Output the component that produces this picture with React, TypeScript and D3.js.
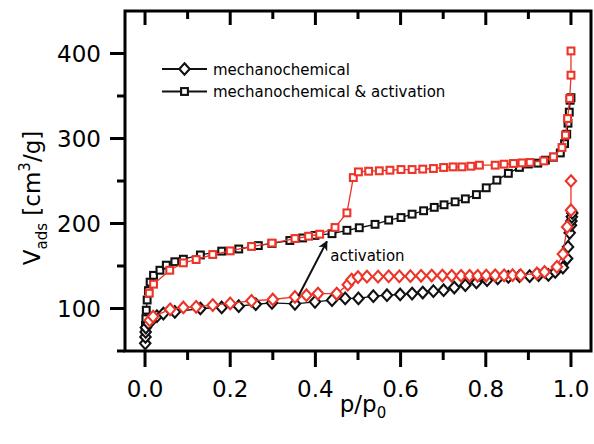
import React from "react";
import * as d3 from "d3";

// ---- data (p/p0, V_ads) ----
const blackSquares: [number, number][] = [
  [0.0005, 72], [0.001, 80], [0.002, 88], [0.003, 98], [0.005, 110], [0.008, 121], [0.012, 131],
  [0.02, 139], [0.035, 145], [0.05, 151], [0.07, 155], [0.09, 158], [0.13, 163], [0.18, 167.5],
  [0.22, 170], [0.266, 174], [0.298, 176.5], [0.34, 180], [0.37, 183], [0.399, 186], [0.439, 188],
  [0.474, 192], [0.503, 195], [0.54, 199], [0.572, 204], [0.601, 207], [0.627, 211], [0.654, 215],
  [0.679, 219], [0.702, 222], [0.728, 225.5], [0.752, 229], [0.778, 234], [0.801, 242], [0.826, 251],
  [0.853, 259], [0.879, 266], [0.9, 270], [0.922, 271], [0.94, 274.5], [0.959, 278], [0.975, 283],
  [0.985, 294], [0.99, 305], [0.993, 318], [0.996, 331], [0.998, 345], [1.0, 348],
];

const redSquares: [number, number][] = [
  [0.01, 118], [0.02, 128.6], [0.058, 145], [0.09, 153.7], [0.12, 157.6], [0.159, 163.5], [0.2, 167.8],
  [0.25, 173], [0.298, 177], [0.352, 182.3], [0.384, 185], [0.41, 187.4], [0.446, 195.3], [0.474, 212.5],
  [0.489, 254], [0.501, 260.7], [0.525, 261.5], [0.55, 262], [0.575, 262.7], [0.601, 263.5], [0.627, 263.5],
  [0.652, 264], [0.677, 264.7], [0.701, 265.9], [0.723, 266.6], [0.744, 266.6], [0.765, 267.4], [0.785, 268.6],
  [0.822, 268.6], [0.843, 269.8], [0.865, 270.6], [0.885, 271.3], [0.904, 271.8], [0.936, 273.6],
  [0.959, 278.4], [0.979, 289.4], [0.987, 304], [0.992, 323.5], [0.997, 347], [1.0, 374.5], [1.0, 403],
];

const blackDiamonds: [number, number][] = [
  [0.0005, 59], [0.001, 66.6], [0.0015, 72.5], [0.002, 77.6], [0.008, 82.4], [0.016, 86.2], [0.028, 91],
  [0.043, 94], [0.07, 96], [0.13, 100], [0.18, 101.2], [0.22, 102.7], [0.26, 105], [0.298, 106.6],
  [0.352, 105.5], [0.399, 107.8], [0.439, 109.8], [0.47, 111.8], [0.501, 111.8], [0.536, 114.5],
  [0.568, 115.6], [0.599, 116.5], [0.627, 117.6], [0.652, 118.8], [0.677, 120.4], [0.701, 121.5],
  [0.726, 124.7], [0.752, 127.4], [0.778, 130.6], [0.803, 133.3], [0.828, 135.3], [0.853, 137.2],
  [0.879, 138], [0.903, 138], [0.924, 139.2], [0.947, 139.5], [0.963, 143], [0.981, 148.2], [0.991, 158.8],
  [0.993, 172.5], [0.997, 189], [1.0, 198], [1.001, 203], [1.002, 207.8], [1.003, 212.5],
];

const redDiamonds: [number, number][] = [
  [0.011, 86], [0.019, 90.5], [0.059, 99], [0.09, 101.2], [0.12, 102], [0.159, 104], [0.2, 106],
  [0.25, 109], [0.3, 110.6], [0.352, 113.6], [0.379, 115.6], [0.406, 117.6], [0.45, 117.6],
  [0.476, 128], [0.485, 134], [0.5, 137], [0.521, 137.5], [0.547, 137.5], [0.572, 137.8], [0.597, 137.8],
  [0.623, 138], [0.648, 138.5], [0.673, 138.8], [0.698, 138.8], [0.72, 138.5], [0.742, 138.5],
  [0.762, 138.5], [0.781, 138.5], [0.801, 138.8], [0.822, 139], [0.843, 139], [0.863, 139.2],
  [0.882, 139.2], [0.92, 141.2], [0.938, 143], [0.967, 149], [0.981, 164], [0.991, 196], [1.0, 215.6], [1.0, 250],
];

const xMajorTicks = [0, 0.2, 0.4, 0.6, 0.8, 1.0];
const xMinorTicks = [0.1, 0.3, 0.5, 0.7, 0.9];
const yMajorTicks = [100, 200, 300, 400];
const yMinorTicks = [50, 150, 250, 350];
const legendLabels = ["mechanochemical", "mechanochemical & activation"];
const annotationText = "activation";
const arrowFrom: [number, number] = [0.36, 114.5];
const arrowTo: [number, number] = [0.427, 179];
const annotationPos: [number, number] = [0.435, 155.5];

const RED = "#ec3428";
const FONT = "DejaVu Sans, Verdana, sans-serif";

const W = 594, H = 444;
const L = 125, R = 591, T = 11, B = 351;

export default function App() {
  const x = d3.scaleLinear().domain([-0.047, 1.047]).range([L, R]);
  const y = d3.scaleLinear().domain([50, 450]).range([B, T]);
  const line = d3.line<[number, number]>().x(d => x(d[0])).y(d => y(d[1]));

  const sq = 6.8;
  const square = (cx: number, cy: number, color: string, key: string | number) => (
    <rect key={key} x={cx - sq / 2} y={cy - sq / 2} width={sq} height={sq} fill="white" stroke={color} strokeWidth={2.1} />
  );
  const diamond = (cx: number, cy: number, color: string, key: string | number) => (
    <path key={key} d={`M${cx},${cy - 5.8}L${cx + 5.2},${cy}L${cx},${cy + 5.8}L${cx - 5.2},${cy}Z`} fill="white" stroke={color} strokeWidth={2.1} />
  );

  const series = [
    { data: blackSquares, color: "#111", shape: square },
    { data: blackDiamonds, color: "#111", shape: diamond },
    { data: redSquares, color: RED, shape: square },
    { data: redDiamonds, color: RED, shape: diamond },
  ];

  return (
    <svg width={W} height={H} style={{ position: "absolute", left: 0, top: 0, background: "white" }} fontFamily={FONT}>
      <defs>
        <marker id="ah" viewBox="0 0 10 10" refX="9" refY="5" markerWidth="5" markerHeight="5" orient="auto">
          <path d="M0,0L10,5L0,10L3,5Z" fill="#111" />
        </marker>
      </defs>
      {series.map((s, i) => (
        <g key={i}>
          <path d={line(s.data) || ""} fill="none" stroke={s.color} strokeWidth={1.3} />
          {s.data.map((d, j) => s.shape(x(d[0]), y(d[1]), s.color, j))}
        </g>
      ))}

      {/* frame */}
      <rect x={L} y={T} width={R - L} height={B - T} fill="none" stroke="#000" strokeWidth={3} />

      {/* x ticks */}
      {xMajorTicks.map(t => (
        <g key={"xm" + t}>
          <line x1={x(t)} x2={x(t)} y1={B} y2={B + 16} stroke="#000" strokeWidth={3} />
          <line x1={x(t)} x2={x(t)} y1={T} y2={T + 14} stroke="#000" strokeWidth={3} />
          <text x={x(t)} y={397} textAnchor="middle" fontSize={23}>{t.toFixed(1)}</text>
        </g>
      ))}
      {xMinorTicks.map(t => (
        <g key={"xn" + t}>
          <line x1={x(t)} x2={x(t)} y1={B} y2={B + 9} stroke="#000" strokeWidth={3} />
          <line x1={x(t)} x2={x(t)} y1={T} y2={T + 8} stroke="#000" strokeWidth={3} />
        </g>
      ))}

      {/* y ticks */}
      {yMajorTicks.map(t => (
        <g key={"ym" + t}>
          <line x1={L - 15} x2={L} y1={y(t)} y2={y(t)} stroke="#000" strokeWidth={3} />
          <text x={101} y={y(t)} dy="0.36em" textAnchor="end" fontSize={23}>{t}</text>
        </g>
      ))}
      {yMinorTicks.map(t => (
        <line key={"yn" + t} x1={L - 8} x2={L} y1={y(t)} y2={y(t)} stroke="#000" strokeWidth={3} />
      ))}

      {/* axis titles */}
      <text x={363} y={412} textAnchor="middle" fontSize={23}>
        p/p<tspan fontSize={15} dy={6}>0</tspan>
      </text>
      <text transform={`translate(40,${(T + B) / 2 + 17}) rotate(-90)`} textAnchor="middle" fontSize={23}>
        V<tspan fontSize={15} dy={7}>ads</tspan>
        <tspan dy={-7}> [cm</tspan>
        <tspan fontSize={15} dy={-10}>3</tspan>
        <tspan dy={10}>/g]</tspan>
      </text>

      {/* legend */}
      {legendLabels.map((lab, i) => {
        const cy = 69 + i * 22.5;
        return (
          <g key={lab}>
            <line x1={162} x2={207} y1={cy} y2={cy} stroke="#111" strokeWidth={2} />
            {i === 0 ? diamond(184.5, cy, "#111", "ld") : square(184.5, cy, "#111", "ls")}
            <text x={213} y={cy + 5.5} fontSize={15}>{lab}</text>
          </g>
        );
      })}

      {/* annotation */}
      <line x1={x(arrowFrom[0])} y1={y(arrowFrom[1])} x2={x(arrowTo[0])} y2={y(arrowTo[1])} stroke="#111" strokeWidth={2} markerEnd="url(#ah)" />
      <text x={x(annotationPos[0])} y={y(annotationPos[1])} fontSize={15}>{annotationText}</text>
    </svg>
  );
}
